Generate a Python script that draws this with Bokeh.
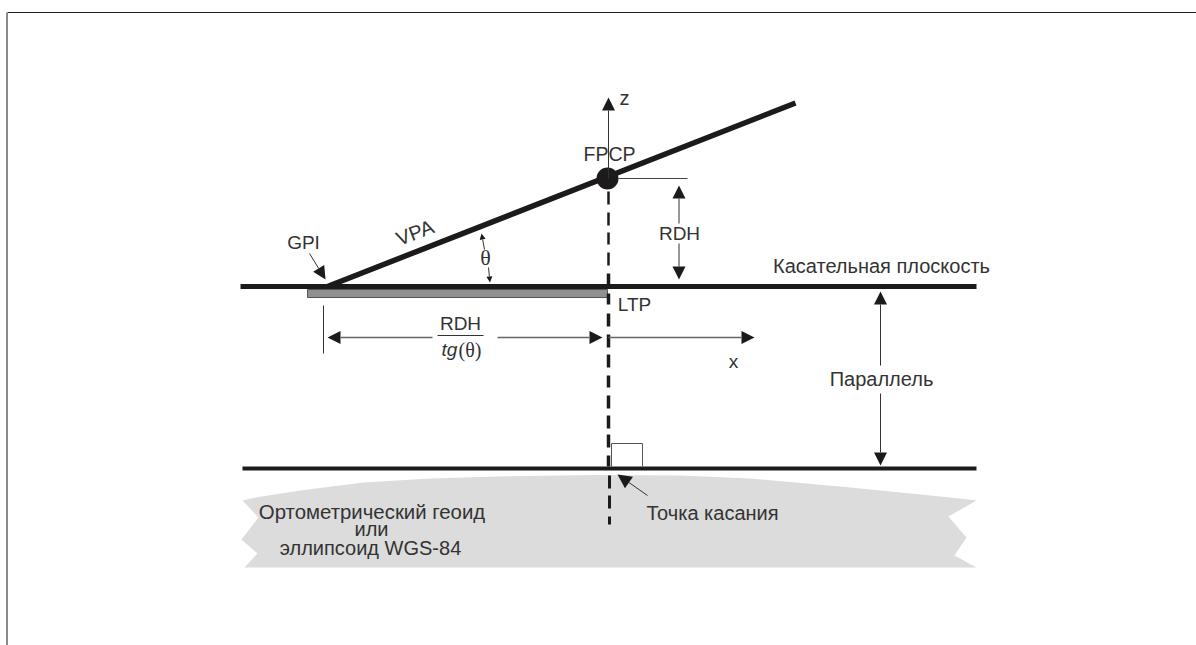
from bokeh.plotting import figure
from bokeh.models import Arrow, NormalHead, Range1d
from bokeh.core.properties import value
from bokeh.embed import file_html
from bokeh.resources import INLINE

INK = "#1c1a1a"
TXT = "#333333"
FONT = "Liberation Sans"

geoid_x = [242, 258, 300, 363, 430, 497, 597, 680, 750, 850, 950, 976, 948, 966, 954, 976, 244, 257, 241, 258]
geoid_y = [500, 496.5, 490, 482, 478, 476, 474.5, 475, 478, 487, 497, 500, 516, 537, 555, 567, 567, 553, 539, 517]

thick_lines = [([240, 976], [286, 286], 5), ([242, 976], [468, 468], 4), ([327, 795], [286, 102.5], 5.5)]
thin_lines = [
    ([7, 1196], [12, 12], 1, "#222222"),
    ([6.5, 6.5], [12, 645], 2, "#8a8a8a"),
    ([618, 687], [178, 178], 1, "#444444"),
    ([323, 323], [305, 353], 1, "#333333"),
    ([437, 483], [335, 335], 1, "#333333"),
    ([611, 611, 642, 642], [466, 443, 443, 466], 1, "#555555"),
]
# dashed plumb line: start and end of each dash, read along the z axis
dash_starts_upper = [191, 212, 232, 252]
dash_ends_upper = [204, 225, 244, 265]
dash_starts_mid = [273, 293, 313, 334, 354, 375, 395, 415, 434, 455]
dash_ends_mid = [286, 304, 326, 347, 367, 387, 408, 428, 447, 466]
dash_starts_lower = [475, 495, 516]
dash_ends_lower = [488, 508, 524]

arrows = [
    # x0, y0, x1, y1, head size, line width, line colour
    (608, 178, 608, 97, 13, 1, "#333333"),
    (678.5, 223, 678.5, 185, 13, 1, "#333333"),
    (678.5, 243, 678.5, 279, 13, 1, "#333333"),
    (309, 253, 325, 279, 13, 1, "#333333"),
    (484, 249, 481, 233, 6, 1, "#333333"),
    (488, 267, 489.5, 282, 6, 1, "#333333"),
    (432, 337, 327, 337, 13, 1.6, "#666666"),
    (497, 337, 602, 337, 13, 1.6, "#666666"),
    (608, 337, 754, 337, 13, 1.6, "#666666"),
    (880, 365, 880, 291, 13, 1, "#333333"),
    (880, 393, 880, 465, 13, 1, "#333333"),
    (647, 495, 617, 474, 14, 1, "#333333"),
]
labels = [
    ("z", 624, 97, 0, 20),
    ("FPCP", 609, 153, 0, 19.5),
    ("RDH", 679, 233, 0, 19),
    ("GPI", 303, 242, 0, 19),
    ("VPA", 414.5, 232, 0.37, 20),
    ("LTP", 634, 304, 0, 19),
    ("RDH", 460, 323, 0, 19),
    ("x", 733, 361, 0, 19),
    ("Касательная плоскость", 881, 265, 0, 20),
    ("Параллель", 881, 378, 0, 20),
    ("Точка касания", 712, 512, 0, 20),
    ("Ортометрический геоид", 371.5, 511, 0, 20.4),
    ("или", 371, 528, 0, 20),
    ("эллипсоид WGS-84", 370, 547, 0, 20),
]

p = figure(width=1196, height=645, output_backend="svg", toolbar_location=None,
           x_range=Range1d(0, 1196), y_range=Range1d(645, 0),
           min_border=0, outline_line_color=None, margin=(0, 0, 0, 0))
p.axis.visible = False
p.grid.visible = False
p.background_fill_color = "white"

p.patch(geoid_x, geoid_y, fill_color="#dcdcdc", line_color=None)
p.quad(left=[307], right=[607], top=[289], bottom=[297], fill_color="#909090", line_color="#555555", line_width=1)

for xs, ys, w in thick_lines:
    p.line(xs, ys, line_color=INK, line_width=w)
for xs, ys, w, c in thin_lines:
    p.line(xs, ys, line_color=c, line_width=w)

for starts, ends, x, w in ((dash_starts_upper, dash_ends_upper, 608, 2.5),
                           (dash_starts_mid, dash_ends_mid, 608, 3.5),
                           (dash_starts_lower, dash_ends_lower, 609, 3)):
    p.segment(x0=[x] * len(starts), x1=[x] * len(starts), y0=starts, y1=ends,
              line_color=INK, line_width=w)
p.scatter([607], [178], size=22, marker="circle", fill_color=INK, line_color=None)

for x0, y0, x1, y1, s, w, c in arrows:
    p.add_layout(Arrow(x_start=x0, y_start=y0, x_end=x1, y_end=y1, line_color=c, line_width=w,
                       end=NormalHead(size=s, fill_color=INK, line_color=INK, line_width=0)))

for t, x, y, a, s in labels:
    p.text([x], [y], text=[t], angle=a, text_align="center", text_baseline="middle",
           text_font=value(FONT), text_font_size=f"{s}px", text_color=TXT)

p.text([485], [257], text=["θ"], text_align="center", text_baseline="middle",
       text_font=value("Liberation Serif"), text_font_size="22px", text_color=TXT)
p.text([441], [349], text=["tg"], text_align="left", text_baseline="middle", text_font_style="italic",
       text_font=value(FONT), text_font_size="19px", text_color=TXT)
p.text([458], [349], text=["(θ)"], text_align="left", text_baseline="middle",
       text_font=value("Liberation Serif"), text_font_size="20px", text_color=TXT)

open("out.html", "w").write(file_html(p, INLINE))
